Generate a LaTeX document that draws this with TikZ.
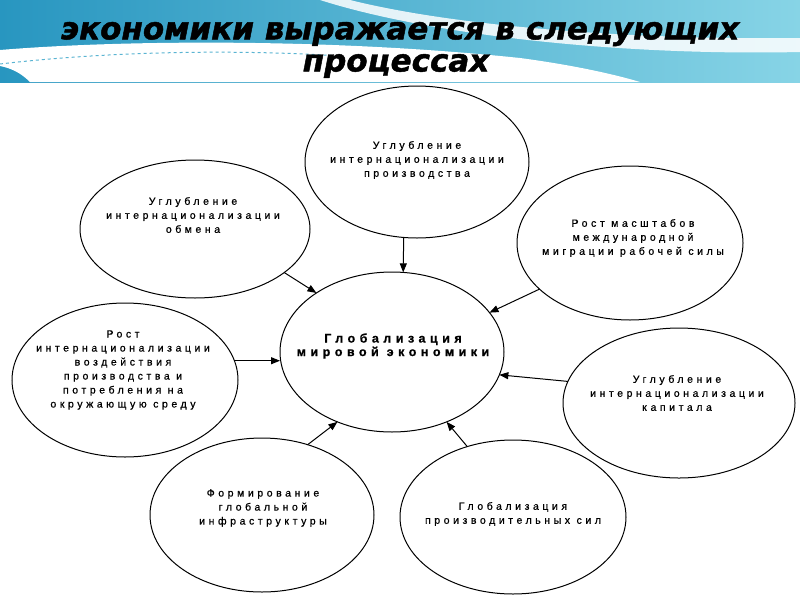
\documentclass[tikz,border=0pt]{standalone}
\usepackage{fontspec}
\setmainfont{Liberation Sans}
\newfontfamily\bubfont[LetterSpace=34,FakeBold=0.7]{Liberation Sans}
\newfontfamily\cenfont[LetterSpace=36,FakeBold=0.8]{Liberation Sans}
\newfontfamily\titlefont[BoldItalicFont={DejaVu Sans Bold Oblique},BoldItalicFeatures={FakeBold=1.5}]{DejaVu Sans}
\usetikzlibrary{arrows.meta,shapes.geometric}
\definecolor{banddark}{RGB}{40,150,192}
\definecolor{bandlight}{RGB}{135,212,230}
\definecolor{bandline}{RGB}{90,180,210}
\begin{document}
\begin{tikzpicture}[x=1pt,y=-1pt,
  bub/.style={draw=black, line width=1pt, ellipse, inner sep=0pt, outer sep=0pt},
  btxt/.style={align=center, font=\bubfont\fontsize{10.5}{14}\selectfont, inner sep=0pt},
  ctxt/.style={align=center, font=\cenfont\bfseries\fontsize{12.5}{13.5}\selectfont, inner sep=0pt},
  ttl/.style={font=\titlefont\bfseries\itshape\fontsize{31}{36}\selectfont, inner sep=0pt},
  arr/.style={-{Triangle[length=9pt,width=7pt]}, line width=1pt},
]
\useasboundingbox (0,0) rectangle (800,600);
\fill[white] (0,0) rectangle (800,600);
% title band
\shade[left color=banddark, right color=bandlight] (0,0) rectangle (800,82);
\fill[white, opacity=0.85] (350,0) .. controls (450,25) and (620,40) .. (800,38) -- (800,52) .. controls (620,56) and (430,35) .. (320,0) -- cycle;
\fill[white] (0,50) .. controls (120,40) and (330,38) .. (520,58) .. controls (580,66) and (620,76) .. (640,82) -- (30,82) .. controls (20,72) and (10,68) .. (0,66) -- cycle;
\draw[bandline, line width=1pt, dashed] (0,64) .. controls (120,50) and (250,50) .. (340,56);
\node[ttl] (title1) at (400,34) {экономики выражается в следующих};
\node[ttl] (title2) at (396,66) {процессах};
% bubbles
\node[bub, minimum width=224pt, minimum height=152pt] (e1) at (417,162) {};
\node[bub, minimum width=230pt, minimum height=138pt] (e2) at (195,229) {};
\node[bub, minimum width=226pt, minimum height=154pt] (e3) at (630,243) {};
\node[bub, minimum width=224pt, minimum height=160pt] (cen) at (392,352) {};
\node[bub, minimum width=226pt, minimum height=154pt] (e5) at (125,380) {};
\node[bub, minimum width=232pt, minimum height=150pt] (e6) at (679,403) {};
\node[bub, minimum width=224pt, minimum height=154pt] (e7) at (262,515) {};
\node[bub, minimum width=226pt, minimum height=154pt] (e8) at (513,517) {};
% texts
\node[btxt] (l1) at (417,160) {Углубление\\интернационализации\\производства};
\node[btxt] (l2) at (193,215) {Углубление\\интернационализации\\обмена};
\node[btxt] (l3) at (633,238) {Рост масштабов\\международной\\миграции рабочей силы};
\node[ctxt] (lc) at (393,346) {Глобализация\\мировой экономики};
\node[btxt] (l5) at (123,370) {Рост\\интернационализации\\воздействия\\производства и\\потребления на\\окружающую среду};
\node[btxt] (l6) at (677,393) {Углубление\\интернационализации\\капитала};
\node[btxt] (l7) at (263,508) {Формирование\\глобальной\\инфраструктуры};
\node[btxt] (l8) at (513,514) {Глобализация\\производительных сил};
% arrows
\draw[arr] (e1.260) -- (cen.82);
\draw[arr] (e2.334) -- (cen.142);
\draw[arr] (e3.207) -- (cen.22);
\draw[arr] (e5.10) -- (e5.10 -| cen.west);
\draw[arr] (e6.169) -- (cen.348);
\draw[arr] (e7.57) -- (cen.232);
\draw[arr] (e8.123) -- (cen.308);
\end{tikzpicture}
\end{document}
